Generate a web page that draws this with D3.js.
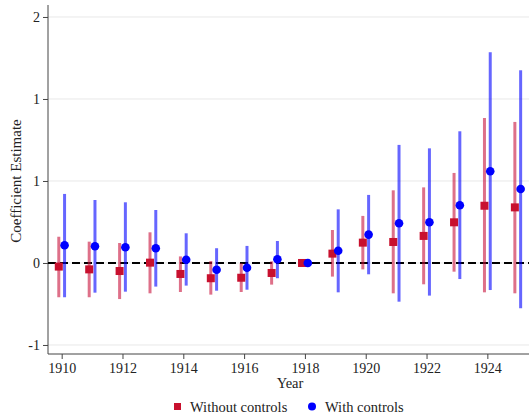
<!DOCTYPE html>
<html>
<head>
<meta charset="utf-8">
<script src="https://cdn.jsdelivr.net/npm/d3@7"></script>
<style>
  body { margin: 0; background: #fff; }
  svg text { font-family: "Liberation Serif", "DejaVu Serif", serif; fill: #222; }
</style>
</head>
<body>
<svg id="chart" width="529" height="415"></svg>
<script>
// years and estimates
var years = [1910, 1911, 1912, 1913, 1914, 1915, 1916, 1917, 1918, 1919, 1920, 1921, 1922, 1923, 1924, 1925];

// without controls (red squares)
var noCtrl   = [-0.022, -0.039, -0.049, 0.002, -0.067, -0.093, -0.090, -0.061, 0, 0.057, 0.124, 0.128, 0.165, 0.248, 0.349, 0.339];
var noCtrlLo = [-0.209, -0.209, -0.220, -0.185, -0.177, -0.193, -0.177, -0.132, 0, -0.083, -0.039, -0.185, -0.130, -0.053, -0.179, -0.185];
var noCtrlHi = [0.160, 0.130, 0.122, 0.187, 0.040, 0.012, -0.002, 0.010, 0, 0.201, 0.287, 0.443, 0.461, 0.549, 0.884, 0.860];

// with controls (blue circles)
var withCtrl   = [0.108, 0.102, 0.096, 0.090, 0.020, -0.041, -0.029, 0.023, 0, 0.075, 0.173, 0.242, 0.248, 0.352, 0.559, 0.451];
var withCtrlLo = [-0.209, -0.181, -0.175, -0.144, -0.138, -0.169, -0.163, -0.093, 0, -0.179, -0.069, -0.236, -0.199, -0.098, -0.165, -0.276];
var withCtrlHi = [0.421, 0.384, 0.370, 0.323, 0.181, 0.090, 0.104, 0.134, 0, 0.327, 0.415, 0.720, 0.699, 0.803, 1.285, 1.175];

// y ticks (labels as printed on the original, rounded to integers)
var yTicks = [-0.5, 0, 0.5, 1, 1.5];
var yTickLabels = ["-1", "0", "1", "1", "2"];
var xTicks = [1910, 1912, 1914, 1916, 1918, 1920, 1922, 1924];

var plotL = 48, plotR = 529, plotT = 5, plotB = 354;
var svg = d3.select("#chart");

var x = d3.scaleLinear().domain([1909.55, 1925.37]).range([plotL, plotR]);
var y = d3.scaleLinear().domain([-0.555, 1.573]).range([plotB, plotT]);

var off = 0.095; // horizontal shift of each series

// gridlines
svg.append("g").selectAll("line").data(yTicks).enter().append("line")
    .attr("x1", plotL).attr("x2", plotR)
    .attr("y1", function (d) { return y(d); })
    .attr("y2", function (d) { return y(d); })
    .attr("stroke", "#e8e8e8").attr("stroke-width", 1);

// axes
var yAxis = d3.axisLeft(y).tickValues(yTicks).tickSize(5).tickPadding(3)
    .tickFormat(function (d, i) { return yTickLabels[i]; });
var gy = svg.append("g").attr("transform", "translate(" + plotL + ",0)").call(yAxis);
gy.select(".domain").attr("stroke", "#444").attr("d", "M0," + plotT + "V" + plotB);
gy.selectAll(".tick line").attr("stroke", "#444");
gy.selectAll("text").style("font-size", "14px").attr("fill", "#222");

var xAxis = d3.axisBottom(x).tickValues(xTicks).tickSize(5).tickPadding(4).tickFormat(d3.format("d"));
var gx = svg.append("g").attr("transform", "translate(0," + plotB + ")").call(xAxis);
gx.select(".domain").attr("stroke", "#444").attr("d", "M" + plotL + ",0H" + plotR);
gx.selectAll(".tick line").attr("stroke", "#444");
gx.selectAll("text").style("font-size", "14px").attr("fill", "#222");

// zero line
svg.append("line")
    .attr("x1", plotL).attr("x2", plotR)
    .attr("y1", y(0)).attr("y2", y(0))
    .attr("stroke", "#000").attr("stroke-width", 2)
    .attr("stroke-dasharray", "8,4");

// confidence intervals
svg.append("g").selectAll("line").data(years).enter().append("line")
    .attr("x1", function (d) { return x(d - off); })
    .attr("x2", function (d) { return x(d - off); })
    .attr("y1", function (d, i) { return y(noCtrlLo[i]); })
    .attr("y2", function (d, i) { return y(noCtrlHi[i]); })
    .attr("stroke", "#c8103a").attr("stroke-opacity", 0.6).attr("stroke-width", 3);

svg.append("g").selectAll("line").data(years).enter().append("line")
    .attr("x1", function (d) { return x(d + off); })
    .attr("x2", function (d) { return x(d + off); })
    .attr("y1", function (d, i) { return y(withCtrlLo[i]); })
    .attr("y2", function (d, i) { return y(withCtrlHi[i]); })
    .attr("stroke", "#0000ff").attr("stroke-opacity", 0.6).attr("stroke-width", 3);

// points
var sq = 8;
svg.append("g").selectAll("rect").data(years).enter().append("rect")
    .attr("x", function (d) { return x(d - off) - sq / 2; })
    .attr("y", function (d, i) { return y(noCtrl[i]) - sq / 2; })
    .attr("width", sq).attr("height", sq)
    .attr("fill", "#c8102e");

svg.append("g").selectAll("circle").data(years).enter().append("circle")
    .attr("cx", function (d) { return x(d + off); })
    .attr("cy", function (d, i) { return y(withCtrl[i]); })
    .attr("r", 4.3)
    .attr("fill", "#0000ff");

// titles
svg.append("text").attr("x", 290).attr("y", 388).attr("text-anchor", "middle")
    .style("font-size", "14.5px").text("Year");
svg.append("text").attr("transform", "translate(21,181) rotate(-90)")
    .attr("text-anchor", "middle").style("font-size", "15px").text("Coefficient Estimate");

// legend
var lg = svg.append("g");
lg.append("rect").attr("x", 174).attr("y", 403).attr("width", 7).attr("height", 7).attr("fill", "#c8102e");
lg.append("text").attr("x", 190).attr("y", 411.5).style("font-size", "14.5px").text("Without controls");
lg.append("circle").attr("cx", 312).attr("cy", 406.5).attr("r", 4).attr("fill", "#0000ff");
lg.append("text").attr("x", 325).attr("y", 411.5).style("font-size", "14.5px").text("With controls");
</script>
</body>
</html>
